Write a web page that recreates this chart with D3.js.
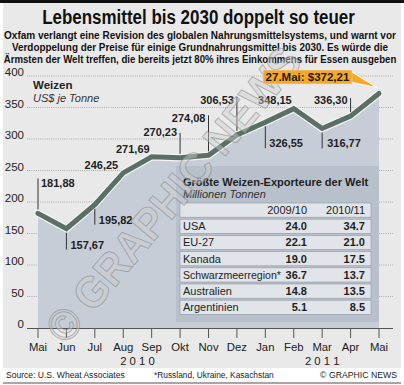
<!DOCTYPE html>
<html><head><meta charset="utf-8">
<script src="https://cdn.jsdelivr.net/npm/d3@7"></script>
<style>body{margin:0;background:#fff}svg{display:block}</style>
</head><body>
<script>
// ---- data ----
const months = ["Mai","Jun","Jul","Aug","Sep","Okt","Nov","Dez","Jan","Feb","Mar","Apr","Mai"];
const prices = [181.88,157.67,195.82,246.25,271.69,270.23,274.08,306.53,326.55,348.15,316.77,336.30,372.21];
const yTicks = [0,50,100,150,200,250,300,350,400];
const years = ["2 0 1 0","2 0 1 1"];
const calloutLabel = "27.Mai: $372,21";
const countries = ["USA","EU-27","Kanada","Schwarzmeerregion*","Australien","Argentinien"];
const exp0910 = [24.0,22.1,19.0,36.7,14.8,5.1];
const exp1011 = [34.7,21.0,17.5,13.7,13.5,8.5];
const seasons = ["2009/10","2010/11"];
const subtitle = [
 "Oxfam verlangt eine Revision des globalen Nahrungsmittelsystems, und warnt vor",
 "Verdoppelung der Preise für einige Grundnahrungsmittel bis 2030. Es würde die",
 "Ärmsten der Welt treffen, die bereits jetzt 80% ihres Einkommens für Essen ausgeben"
];

// ---- layout for labels (offsets relative to points) ----
const labelLayout = [
 {a:"start", dx:3, dy:-26, l:[-4,-35]},
 {a:"start", dx:4, dy:20, l:[4,21]},
 {a:"start", dx:4, dy:19, l:[4,20]},
 {a:"end", dx:-5, dy:-4, l:null},
 {a:"end", dx:-2, dy:-4, l:null},
 {a:"end", dx:-3, dy:-22, l:[-4,-25]},
 {a:"end", dx:-3, dy:-33, l:[-4,-40]},
 {a:"end", dx:-3, dy:-31, l:[-4,-38]},
 {a:"start", dx:4, dy:25, l:[4,26]},
 {a:"end", dx:-2, dy:-5, l:null},
 {a:"start", dx:5, dy:19, l:[4,20]},
 {a:"end", dx:-3, dy:-12, l:[-4,-18]},
 null
];

const SANS="Liberation Sans, Arial, Helvetica, sans-serif";
const W=404,H=385;
const svg=d3.select("body").append("svg").attr("width",W).attr("height",H);
const fmt = v => d3.format(".2f")(v).replace(".",",");

// helper: text squeezed horizontally to a target width via a scale transform
function fitText(parent, str, cx, by, anchor, width, attrs){
 const g=parent.append("g");
 const t=g.append("text").attr("x",0).attr("y",0).attr("text-anchor",anchor).text(str);
 Object.entries(attrs).forEach(([k,v])=>t.attr(k,v));
 const w=t.node().getComputedTextLength();
 const k=Math.min(1,width/w);
 g.attr("transform",`translate(${cx},${by}) scale(${k},1)`);
 return t;
}

svg.append("rect").attr("width",W).attr("height",H).attr("fill","#fff");
svg.append("rect").attr("x",3).attr("y",3).attr("width",398).attr("height",365).attr("fill","#e9e9e9");
svg.append("rect").attr("x",0).attr("y",0).attr("width",W).attr("height",3).attr("fill","#111");

// title
fitText(svg,"Lebensmittel bis 2030 doppelt so teuer",198.5,24,"middle",313,
 {"font-family":SANS,"font-weight":"bold","font-size":20.5,"fill":"#111"});
const subW=[392,376,393];
subtitle.forEach((s,i)=>{
 fitText(svg,s,200,38.5+i*12.3,"middle",subW[i],
  {"font-family":SANS,"font-weight":"bold","font-size":11.2,"fill":"#111"});
});

const x=d3.scaleLinear().domain([0,12]).range([38,379]);
const y=d3.scaleLinear().domain([0,400]).range([328,76]);

// gridlines + y labels
yTicks.forEach(t=>{
 if(t>0) svg.append("line").attr("x1",27).attr("x2",393).attr("y1",y(t)).attr("y2",y(t))
   .attr("stroke","#9a9a9a").attr("stroke-width",0.8).attr("stroke-dasharray","1,1.2");
 svg.append("text").attr("x",24).attr("y",y(t)).attr("text-anchor","end")
   .attr("font-family",SANS).attr("font-size",11.5).attr("fill","#222").text(t);
});

// area
const area=d3.area().x((d,i)=>x(i)).y0(y(0)).y1(d=>y(d));
svg.append("path").datum(prices).attr("d",area).attr("fill","#c6cdd7");

// table panel
svg.append("rect").attr("x",176).attr("y",166).attr("width",203).attr("height",156).attr("fill","#b7c0cb");

// series label
svg.append("text").attr("x",33).attr("y",89).attr("font-family",SANS).attr("font-weight","bold")
 .attr("font-size",11.5).attr("fill","#222").text("Weizen");
svg.append("text").attr("x",33).attr("y",102).attr("font-family",SANS).attr("font-style","italic")
 .attr("font-size",11).attr("fill","#333").text("US$ je Tonne");

// line
const line=d3.line().x((d,i)=>x(i)).y(d=>y(d));
svg.append("path").datum(prices).attr("d",line).attr("fill","none").attr("stroke","#f4f4f4").attr("stroke-width",7.5).attr("stroke-linejoin","miter").attr("stroke-linecap","round");
svg.append("path").datum(prices).attr("d",line).attr("fill","none").attr("stroke","#5a7066").attr("stroke-width",5).attr("stroke-linejoin","miter").attr("stroke-linecap","round");

// labels
prices.forEach((v,i)=>{
 const L=labelLayout[i]; if(!L) return;
 const px=x(i), py=y(v);
 if(L.l) svg.append("line").attr("x1",px).attr("x2",px).attr("y1",py+L.l[0]).attr("y2",py+L.l[1])
   .attr("stroke","#333").attr("stroke-width",1);
 svg.append("text").attr("x",px+L.dx).attr("y",py+L.dy).attr("text-anchor",L.a)
   .attr("font-family",SANS).attr("font-weight","bold").attr("font-size",11)
   .attr("fill","#1e1e1e").text(fmt(v));
});

// x axis
svg.append("line").attr("x1",27).attr("x2",393).attr("y1",328.5).attr("y2",328.5).attr("stroke","#555").attr("stroke-width",1.2);
months.forEach((m,i)=>{
 svg.append("line").attr("x1",x(i)).attr("x2",x(i)).attr("y1",329).attr("y2",338).attr("stroke","#555").attr("stroke-width",1);
 svg.append("text").attr("x",x(i)).attr("y",351).attr("text-anchor","middle")
  .attr("font-family",SANS).attr("font-size",11.3).attr("fill","#222").text(m);
});
svg.append("text").attr("x",(x(3)+x(4))/2).attr("y",365).attr("text-anchor","middle")
 .attr("font-family",SANS).attr("font-size",11.3).attr("fill","#222").text(years[0]);
svg.append("text").attr("x",x(10)).attr("y",365).attr("text-anchor","middle")
 .attr("font-family",SANS).attr("font-size",11.3).attr("fill","#222").text(years[1]);

// table
fitText(svg,"Größte Weizen-Exporteure der Welt",183,186,"start",185,
 {"font-family":SANS,"font-weight":"bold","font-size":11.2,"fill":"#1e1e1e"});
svg.append("text").attr("x",183).attr("y",198).attr("font-family",SANS).attr("font-style","italic")
 .attr("font-size",11).attr("fill","#333").text("Millionen Tonnen");
const rowY=d3.scaleLinear().domain([0,1]).range([203,219.2]);
const rows=["", ...countries];
rows.forEach((r,k)=>{
 const ty=rowY(k);
 svg.append("rect").attr("x",180).attr("y",ty).attr("width",191).attr("height",14.2)
  .attr("fill","#e1e5ea").attr("stroke","#8f98a3").attr("stroke-width",0.6);
 if(k===0){
  svg.append("text").attr("x",307).attr("y",ty+11).attr("text-anchor","end").attr("font-family",SANS)
   .attr("font-size",11).attr("fill","#222").text(seasons[0]);
  svg.append("text").attr("x",365).attr("y",ty+11).attr("text-anchor","end").attr("font-family",SANS)
   .attr("font-size",11).attr("fill","#222").text(seasons[1]);
 } else {
  fitText(svg,r,183,ty+11,"start",98,{"font-family":SANS,"font-size":11,"fill":"#222"});
  svg.append("text").attr("x",307).attr("y",ty+11).attr("text-anchor","end").attr("font-family",SANS)
   .attr("font-weight","bold").attr("font-size",11).attr("fill","#1e1e1e").text(exp0910[k-1].toFixed(1));
  svg.append("text").attr("x",365).attr("y",ty+11).attr("text-anchor","end").attr("font-family",SANS)
   .attr("font-weight","bold").attr("font-size",11).attr("fill","#1e1e1e").text(exp1011[k-1].toFixed(1));
 }
});

// watermark
fitText(svg.append("g").attr("transform","translate(66,346) rotate(-50)"),"© GRAPHIC NEWS",0,0,"start",370,
 {"font-family":SANS,"font-weight":"bold","font-size":44,"fill":"#cfcfcf","fill-opacity":0.45,
  "stroke":"#6f6f6f","stroke-opacity":0.45,"stroke-width":1});

// callout (on top)
{
 const i=prices.length-1, px=x(i), py=y(prices[i]);
 const bx=px-116, by=py-23.5, bw=89, bh=14;
 svg.append("path").attr("d",`M${bx+bw-2},${by+1}L${px-2},${py-6}L${bx+bw-2},${by+bh-2}Z`)
   .attr("fill","#f6a821").attr("stroke","#fff").attr("stroke-width",1);
 svg.append("rect").attr("x",bx).attr("y",by).attr("width",bw).attr("height",bh)
   .attr("fill","#f6a821").attr("stroke","#e0e0e0").attr("stroke-width",0.6);
 svg.append("text").attr("x",bx+bw/2).attr("y",by+11).attr("text-anchor","middle")
   .attr("font-family",SANS).attr("font-weight","bold").attr("font-size",11.5)
   .attr("fill","#1a1a1a").text(calloutLabel);
}

// footer
svg.append("line").attr("x1",3).attr("x2",401).attr("y1",383).attr("y2",383).attr("stroke","#888").attr("stroke-width",1.5);
const foot=[["Source: U.S. Wheat Associates",6,119,"start"],["*Russland, Ukraine, Kasachstan",154,120,"start"],["© GRAPHIC NEWS",397,77,"end"]];
foot.forEach(f=>{
 fitText(svg,f[0],f[1],378,f[3],f[2],{"font-family":SANS,"font-size":9,"fill":"#222"});
});
</script>
</body></html>
